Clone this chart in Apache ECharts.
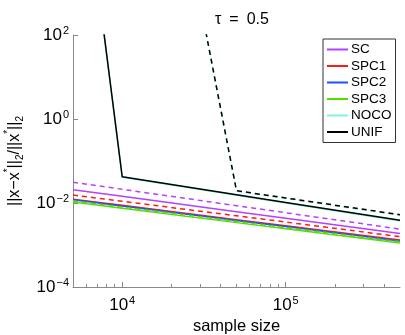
<!DOCTYPE html>
<html><head><meta charset="utf-8">
<script src="https://cdn.jsdelivr.net/npm/echarts@6/dist/echarts.min.js"></script>
<style>html,body{margin:0;padding:0;background:#fff}#c{width:405px;height:335px}</style>
</head><body><div id="c"></div>
<script>
const sizes = [5000, 10000, 50000, 100000, 500000];
const methods = ['SC', 'SPC1', 'SPC2', 'SPC3', 'NOCO', 'UNIF'];
const colors = ['#b540ff', '#ff1a1a', '#1f4fff', '#55dd00', '#7ff5dc', '#000000'];
// solid lines
const SC = [0.0207, 0.0144, 0.00622, 0.00434, 0.00187];
const SPC1 = [0.0123, 0.00879, 0.00401, 0.00286, 0.00131];
const SPC2 = [0.0120, 0.00853, 0.00385, 0.00274, 0.00124];
const SPC3 = [0.0105, 0.00748, 0.00341, 0.00243, 0.00111];
const NOCO = [6e7, 0.041, 0.0153, 0.0100, 0.00375];
const UNIF = [7e7, 0.042, 0.0158, 0.0103, 0.00386];
// dashed lines
const SC_d = [0.0312, 0.0212, 0.00863, 0.00586, 0.00239];
const SPC1_d = [0.0155, 0.0110, 0.00495, 0.00352, 0.00158];
const SPC2_d = [0.0116, 0.00824, 0.00373, 0.00265, 0.00120];
const SPC3_d = [0.0113, 0.00805, 0.00367, 0.00262, 0.00120];
const NOCO_d = [1e20, 2e12, 0.0190, 0.0128, 0.00510];
const UNIF_d = [1e20, 2.5e12, 0.0196, 0.0132, 0.00527];
const xMajor = [10000, 100000];
const xMinor = [6000, 7000, 8000, 9000, 20000, 30000, 40000, 50000, 60000, 70000, 80000, 90000, 200000, 300000, 400000];
const yMajor = [1e-4, 1e-2, 1, 100];

const solid = [SC, SPC1, SPC2, SPC3, NOCO, UNIF];
const dashed = [SC_d, SPC1_d, SPC2_d, SPC3_d, NOCO_d, UNIF_d];
const font = 'Liberation Sans, Arial, Helvetica, sans-serif';

function pow10Label(v) {
  const e = Math.round(Math.log10(v));
  return '{b|10}{s|' + (e < 0 ? '\u2212' + (-e) : e) + '}';
}
const richTick = {
  b: {fontSize: 17, fontFamily: font, color: '#000'},
  s: {fontSize: 11, fontFamily: font, color: '#000', verticalAlign: 'top', padding: [0, 0, 9, 1]}
};

const series = [];
methods.forEach((m, i) => {
  series.push({
    name: m, type: 'line', symbol: 'none', clip: true, z: 2 + i,
    lineStyle: {color: colors[i], width: 1.5},
    itemStyle: {color: colors[i]},
    data: sizes.map((s, k) => [s, solid[i][k]])
  });
  series.push({
    name: m + ' (dashed)', type: 'line', symbol: 'none', clip: true, z: 2 + i,
    lineStyle: {color: colors[i], width: 1.5, type: [5, 4]},
    itemStyle: {color: colors[i]},
    data: sizes.map((s, k) => [s, dashed[i][k]])
  });
});

const chart = echarts.init(document.getElementById('c'), null, {renderer: 'canvas'});
chart.setOption({
  animation: false,
  backgroundColor: '#fff',
  title: {
    text: '\u03c4\u2002=\u20020.5', left: 237, top: 7, textAlign: 'center',
    textStyle: {fontSize: 16, fontWeight: 'normal', fontFamily: font, color: '#000'}
  },
  grid: {left: 73, right: 5, top: 35, bottom: 48, containLabel: false, outerBoundsMode: 'none'},
  legend: {
    data: methods, orient: 'vertical', left: 323, top: 39,
    backgroundColor: '#fff', borderColor: '#333', borderWidth: 1,
    padding: [3, 4, 3, 4], itemWidth: 21, itemHeight: 2, itemGap: 1.5,
    icon: 'rect',
    textStyle: {fontSize: 13.5, fontFamily: font, color: '#000', lineHeight: 15, padding: [0, 0, 0, -2]}
  },
  xAxis: [{
    type: 'log', logBase: 10, min: 5000, max: 500000,
    name: 'sample size', nameLocation: 'middle', nameGap: 29,
    nameTextStyle: {fontSize: 16.5, fontFamily: font, color: '#000'},
    axisLine: {lineStyle: {color: '#888', width: 1}},
    axisTick: {inside: true, length: 5, customValues: xMajor, lineStyle: {color: '#888'}},
    axisLabel: {customValues: xMajor, formatter: pow10Label, rich: richTick, margin: 8},
    splitLine: {show: false}, minorTick: {show: false}
  }, {
    type: 'log', logBase: 10, min: 5000, max: 500000, position: 'bottom',
    axisLine: {show: false},
    axisTick: {inside: true, length: 3, customValues: xMinor, lineStyle: {color: '#888'}},
    axisLabel: {show: false}, splitLine: {show: false}
  }],
  yAxis: {
    type: 'log', logBase: 10, min: 1e-4, max: 100,
    name: '||x\u2212x{sup|*}||{sub|2}/||x{sup|*}||{sub|2}',
    nameLocation: 'middle', nameGap: 42, nameRotate: 90,
    nameTextStyle: {
      fontSize: 16, fontFamily: font, color: '#000', lineHeight: 22,
      rich: {
        sup: {fontSize: 10, fontFamily: font, color: '#000', verticalAlign: 'top', lineHeight: 22, padding: [0, 0, 8, 0]},
        sub: {fontSize: 10, fontFamily: font, color: '#000', verticalAlign: 'bottom', lineHeight: 22, padding: [6, 0, 0, 0]}
      }
    },
    axisLine: {show: true, lineStyle: {color: '#888', width: 1}},
    axisTick: {show: true, inside: true, length: 5, customValues: yMajor, lineStyle: {color: '#888'}},
    axisLabel: {customValues: yMajor, formatter: pow10Label, rich: richTick, margin: 4},
    splitLine: {show: false}
  },
  series: series
});
</script></body></html>
